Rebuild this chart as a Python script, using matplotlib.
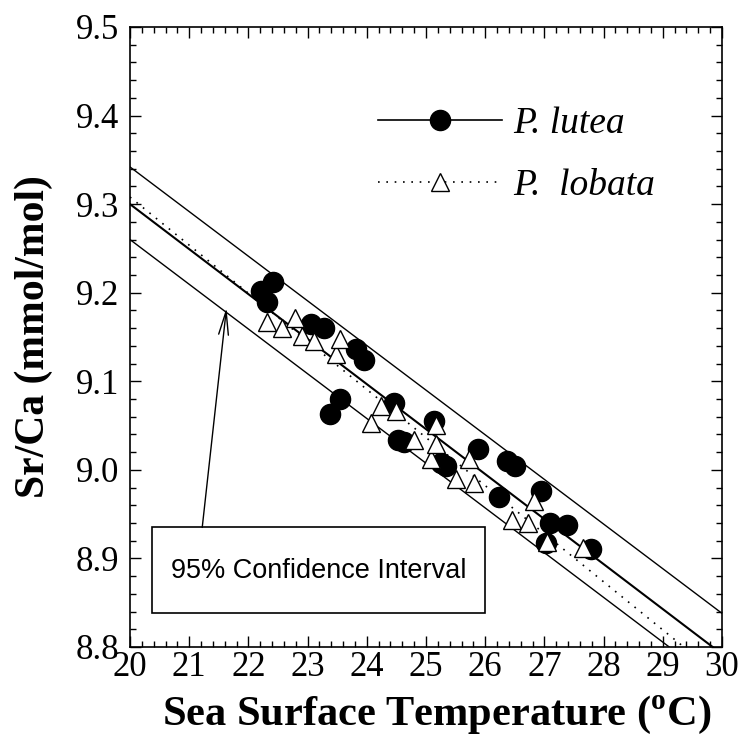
import matplotlib
matplotlib.use("Agg")
import matplotlib.pyplot as plt
from matplotlib.lines import Line2D
from matplotlib.patches import Rectangle
from matplotlib.ticker import MultipleLocator, FormatStrFormatter

plt.rcParams['font.family'] = 'serif'
plt.rcParams['font.serif'] = ['Liberation Serif', 'DejaVu Serif']
plt.rcParams['mathtext.fontset'] = 'custom'
plt.rcParams['mathtext.rm'] = 'Liberation Serif'
plt.rcParams['mathtext.bf'] = 'Liberation Serif:bold'

# ---- data ----
lutea_sst = [22.22, 22.31, 22.42, 23.06, 23.28, 23.82, 23.96, 23.37, 23.54,
             24.46, 24.53, 24.62, 25.14, 25.25, 25.34, 25.88, 26.23, 26.36,
             26.50, 26.94, 27.02, 27.10, 27.39, 27.78]
lutea_srca = [9.202, 9.190, 9.212, 9.165, 9.160, 9.137, 9.124, 9.063, 9.080,
              9.076, 9.034, 9.032, 9.055, 9.008, 9.004, 9.024, 8.969, 9.010,
              9.004, 8.976, 8.917, 8.940, 8.938, 8.911]

lobata_sst = [22.31, 22.56, 22.78, 22.90, 23.11, 23.48, 23.54, 24.07, 24.24,
              24.49, 24.80, 25.08, 25.17, 25.17, 25.50, 25.73, 25.81, 26.46,
              26.73, 26.82, 27.05, 27.66]
lobata_srca = [9.167, 9.160, 9.171, 9.151, 9.145, 9.131, 9.148, 9.053, 9.072,
               9.067, 9.034, 9.012, 9.029, 9.051, 8.990, 9.012, 8.985, 8.943,
               8.940, 8.965, 8.918, 8.912]

# regression lines and 95% band, values at 20 and 30 degC
line_sst = [20, 30]
fit_lutea = [9.300, 8.792]
fit_lobata = [9.308, 8.765]
ci_upper = [9.342, 8.838]
ci_lower = [9.260, 8.755]

fig = plt.figure(figsize=(7.39, 7.44), dpi=100)
ax = fig.add_axes([130 / 739, 1 - 647 / 744, 592 / 739, 620 / 744])

ax.plot(line_sst, ci_upper, color='k', lw=1.0)
ax.plot(line_sst, ci_lower, color='k', lw=1.0)
ax.plot(line_sst, fit_lobata, color='k', lw=1.2, ls=(0, (1, 4)))
ax.plot(line_sst, fit_lutea, color='k', lw=1.5)

ax.plot(lutea_sst, lutea_srca, 'o', color='k', ms=14.5, zorder=3)
ax.plot(lobata_sst, lobata_srca, '^', mfc='white', mec='k', mew=1.0,
        ms=13, zorder=4)

ax.set_xlim(20, 30)
ax.set_ylim(8.8, 9.5)
ax.xaxis.set_major_locator(MultipleLocator(1))
ax.xaxis.set_minor_locator(MultipleLocator(0.2))
ax.yaxis.set_major_locator(MultipleLocator(0.1))
ax.yaxis.set_minor_locator(MultipleLocator(0.02))
ax.yaxis.set_major_formatter(FormatStrFormatter('%.1f'))
ax.tick_params(which='both', direction='in', top=True, right=True,
               width=1.0, labelsize=25)
ax.tick_params(which='major', length=8)
ax.tick_params(which='minor', length=4)
ax.tick_params(axis='x', pad=3)
ax.tick_params(axis='y', pad=8)
for s in ax.spines.values():
    s.set_linewidth(1.2)

ax.set_xlabel(r'Sea Surface Temperature ($^{\mathbf{o}}$C)',
              fontsize=30.5, fontweight='bold')
ax.xaxis.set_label_coords(0.519, -0.076)
ax.set_ylabel('Sr/Ca (mmol/mol)', fontsize=30, fontweight='bold', labelpad=16)

# confidence interval note
ax.add_patch(Rectangle((20.38, 8.838), 5.62, 0.097, fill=False,
                       ec='k', lw=1.2, zorder=5))
ax.text(23.19, 8.886, '95% Confidence Interval', fontsize=19.5,
        family='Liberation Sans', ha='center', va='center', zorder=6)
ax.annotate('', xy=(21.63, 9.183), xytext=(21.22, 8.935),
            arrowprops=dict(arrowstyle='->,head_length=1.7,head_width=0.35',
                            lw=1.0, color='k', shrinkA=0, shrinkB=0))

h1 = Line2D([], [], color='k', lw=1.2, marker='o', ms=14.5)
h2 = Line2D([], [], color='k', lw=1.2, ls=(0, (1, 4)), marker='^',
            ms=13, mfc='white', mec='k')
ax.legend([h1, h2], ['P. lutea', 'P.  lobata'], loc='upper left',
          bbox_to_anchor=(0.419, 0.872), frameon=False, numpoints=1,
          handlelength=3.3, handletextpad=0.3, labelspacing=0.75,
          borderpad=0, borderaxespad=0,
          prop={'family': 'Liberation Serif', 'style': 'italic', 'size': 27})

fig.savefig('out.png', dpi=100)
